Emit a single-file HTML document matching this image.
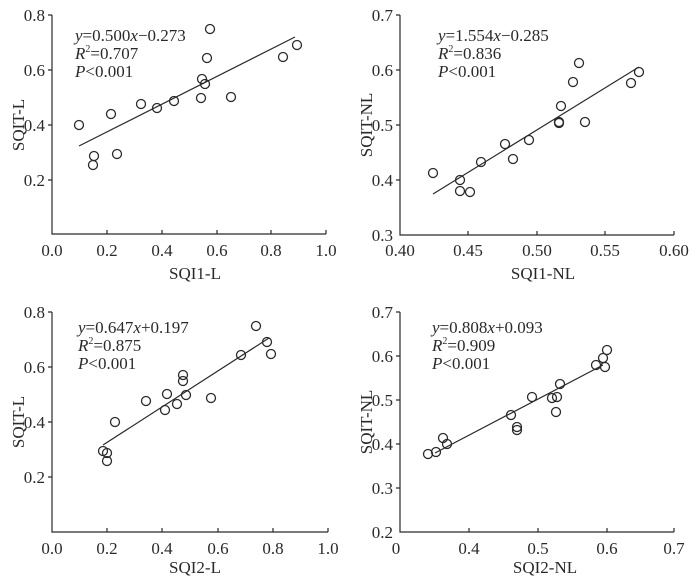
<!DOCTYPE html>
<html><head><meta charset="utf-8"><style>
html,body{margin:0;padding:0;background:#fff}
svg{display:block}
text{font-family:"Liberation Serif",serif;font-size:17px;fill:#2a2a2a}
.c{fill:none;stroke:#2a2a2a;stroke-width:1.3}
.a{stroke:#2a2a2a;stroke-width:1.2;fill:none}
</style></head><body>
<svg width="700" height="581" viewBox="0 0 700 581" xmlns="http://www.w3.org/2000/svg">
<!-- Panel 1 -->
<g>
<path class="a" d="M52,15V234H326"/>
<path class="a" d="M48,15H52M48,70H52M48,125H52M48,180H52M107,234v-4M162,234v-4M217,234v-4M271,234v-4M326,234v-4"/>
<g text-anchor="end"><text x="45" y="21">0.8</text><text x="45" y="76">0.6</text><text x="45" y="131">0.4</text><text x="45" y="186">0.2</text></g>
<g text-anchor="middle"><text x="52" y="256">0.0</text><text x="107" y="256">0.2</text><text x="162" y="256">0.4</text><text x="217" y="256">0.6</text><text x="271" y="256">0.8</text><text x="326" y="256">1.0</text>
<text x="195" y="279">SQI1-L</text>
<text transform="translate(24,125) rotate(-90)">SQIT-L</text></g>
<text x="75" y="41"><tspan font-style="italic">y</tspan>=0.500<tspan font-style="italic">x</tspan>−0.273</text>
<text x="75" y="59"><tspan font-style="italic">R</tspan><tspan font-size="10" dy="-7">2</tspan><tspan dy="7">=0.707</tspan></text>
<text x="75" y="77"><tspan font-style="italic">P</tspan>&lt;0.001</text>
<path class="a" d="M79,146L295,37"/>
<g class="c">
<circle cx="79" cy="125" r="4.5"/><circle cx="94" cy="156" r="4.5"/><circle cx="93" cy="165" r="4.5"/><circle cx="111" cy="114" r="4.5"/><circle cx="117" cy="154" r="4.5"/><circle cx="141" cy="104" r="4.5"/><circle cx="157" cy="108" r="4.5"/><circle cx="174" cy="101" r="4.5"/><circle cx="201" cy="98" r="4.5"/><circle cx="202" cy="79" r="4.5"/><circle cx="205" cy="84" r="4.5"/><circle cx="207" cy="58" r="4.5"/><circle cx="210" cy="29" r="4.5"/><circle cx="231" cy="97" r="4.5"/><circle cx="283" cy="57" r="4.5"/><circle cx="297" cy="45" r="4.5"/>
</g>
</g>
<!-- Panel 2 -->
<g>
<path class="a" d="M400,15V235H674"/>
<path class="a" d="M396,15H400M396,70H400M396,125H400M396,180H400M468,235v-4M537,235v-4M605,235v-4M674,235v-4"/>
<g text-anchor="end"><text x="393" y="21">0.7</text><text x="393" y="76">0.6</text><text x="393" y="131">0.5</text><text x="393" y="186">0.4</text><text x="393" y="241">0.3</text></g>
<g text-anchor="middle"><text x="400" y="256">0.40</text><text x="468" y="256">0.45</text><text x="537" y="256">0.50</text><text x="605" y="256">0.55</text><text x="674" y="256">0.60</text>
<text x="543" y="279">SQI1-NL</text>
<text transform="translate(372,125) rotate(-90)">SQIT-NL</text></g>
<text x="438" y="41"><tspan font-style="italic">y</tspan>=1.554<tspan font-style="italic">x</tspan>−0.285</text>
<text x="438" y="59"><tspan font-style="italic">R</tspan><tspan font-size="10" dy="-7">2</tspan><tspan dy="7">=0.836</tspan></text>
<text x="438" y="77"><tspan font-style="italic">P</tspan>&lt;0.001</text>
<path class="a" d="M433,194L639,67"/>
<g class="c">
<circle cx="433" cy="173" r="4.5"/><circle cx="460" cy="180" r="4.5"/><circle cx="460" cy="191" r="4.5"/><circle cx="470" cy="192" r="4.5"/><circle cx="481" cy="162" r="4.5"/><circle cx="505" cy="144" r="4.5"/><circle cx="513" cy="159" r="4.5"/><circle cx="529" cy="140" r="4.5"/><circle cx="559" cy="122" r="4.5"/><circle cx="559" cy="123" r="4.5"/><circle cx="561" cy="106" r="4.5"/><circle cx="573" cy="82" r="4.5"/><circle cx="579" cy="63" r="4.5"/><circle cx="585" cy="122" r="4.5"/><circle cx="631" cy="83" r="4.5"/><circle cx="639" cy="72" r="4.5"/>
</g>
</g>
<!-- Panel 3 -->
<g>
<path class="a" d="M52,312V532H328"/>
<path class="a" d="M48,312H52M48,367H52M48,422H52M48,477H52M107,532v-4M162,532v-4M218,532v-4M273,532v-4M328,532v-4"/>
<g text-anchor="end"><text x="45" y="318">0.8</text><text x="45" y="373">0.6</text><text x="45" y="428">0.4</text><text x="45" y="483">0.2</text></g>
<g text-anchor="middle"><text x="52" y="554">0.0</text><text x="107" y="554">0.2</text><text x="162" y="554">0.4</text><text x="218" y="554">0.6</text><text x="273" y="554">0.8</text><text x="328" y="554">1.0</text>
<text x="195" y="573">SQI2-L</text>
<text transform="translate(24,422) rotate(-90)">SQIT-L</text></g>
<text x="78" y="333"><tspan font-style="italic">y</tspan>=0.647<tspan font-style="italic">x</tspan>+0.197</text>
<text x="78" y="351"><tspan font-style="italic">R</tspan><tspan font-size="10" dy="-7">2</tspan><tspan dy="7">=0.875</tspan></text>
<text x="78" y="369"><tspan font-style="italic">P</tspan>&lt;0.001</text>
<path class="a" d="M103,445L269,338"/>
<g class="c">
<circle cx="103" cy="451" r="4.5"/><circle cx="107" cy="453" r="4.5"/><circle cx="107" cy="461" r="4.5"/><circle cx="115" cy="422" r="4.5"/><circle cx="146" cy="401" r="4.5"/><circle cx="165" cy="410" r="4.5"/><circle cx="167" cy="394" r="4.5"/><circle cx="177" cy="404" r="4.5"/><circle cx="183" cy="375" r="4.5"/><circle cx="183" cy="381" r="4.5"/><circle cx="186" cy="395" r="4.5"/><circle cx="211" cy="398" r="4.5"/><circle cx="241" cy="355" r="4.5"/><circle cx="256" cy="326" r="4.5"/><circle cx="267" cy="342" r="4.5"/><circle cx="271" cy="354" r="4.5"/>
</g>
</g>
<!-- Panel 4 -->
<g>
<path class="a" d="M400,312V532H674"/>
<path class="a" d="M396,312H400M396,356H400M396,400H400M396,444H400M396,488H400M469,532v-4M538,532v-4M607,532v-4M674,532v-4"/>
<g text-anchor="end"><text x="393" y="318">0.7</text><text x="393" y="362">0.6</text><text x="393" y="406">0.5</text><text x="393" y="450">0.4</text><text x="393" y="494">0.3</text><text x="393" y="538">0.2</text></g>
<g text-anchor="middle"><text x="396" y="554">0</text><text x="469" y="554">0.4</text><text x="538" y="554">0.5</text><text x="607" y="554">0.6</text><text x="674" y="554">0.7</text>
<text x="545" y="573">SQI2-NL</text>
<text transform="translate(372,422) rotate(-90)">SQIT-NL</text></g>
<text x="432" y="333"><tspan font-style="italic">y</tspan>=0.808<tspan font-style="italic">x</tspan>+0.093</text>
<text x="432" y="351"><tspan font-style="italic">R</tspan><tspan font-size="10" dy="-7">2</tspan><tspan dy="7">=0.909</tspan></text>
<text x="432" y="369"><tspan font-style="italic">P</tspan>&lt;0.001</text>
<path class="a" d="M435,453L603,365"/>
<g class="c">
<circle cx="428" cy="454" r="4.5"/><circle cx="436" cy="452" r="4.5"/><circle cx="443" cy="438" r="4.5"/><circle cx="447" cy="444" r="4.5"/><circle cx="511" cy="415" r="4.5"/><circle cx="517" cy="427" r="4.5"/><circle cx="517" cy="430" r="4.5"/><circle cx="532" cy="397" r="4.5"/><circle cx="552" cy="398" r="4.5"/><circle cx="557" cy="397" r="4.5"/><circle cx="556" cy="412" r="4.5"/><circle cx="560" cy="384" r="4.5"/><circle cx="596" cy="365" r="4.5"/><circle cx="603" cy="358" r="4.5"/><circle cx="605" cy="367" r="4.5"/><circle cx="607" cy="350" r="4.5"/>
</g>
</g>
</svg>
</body></html>
